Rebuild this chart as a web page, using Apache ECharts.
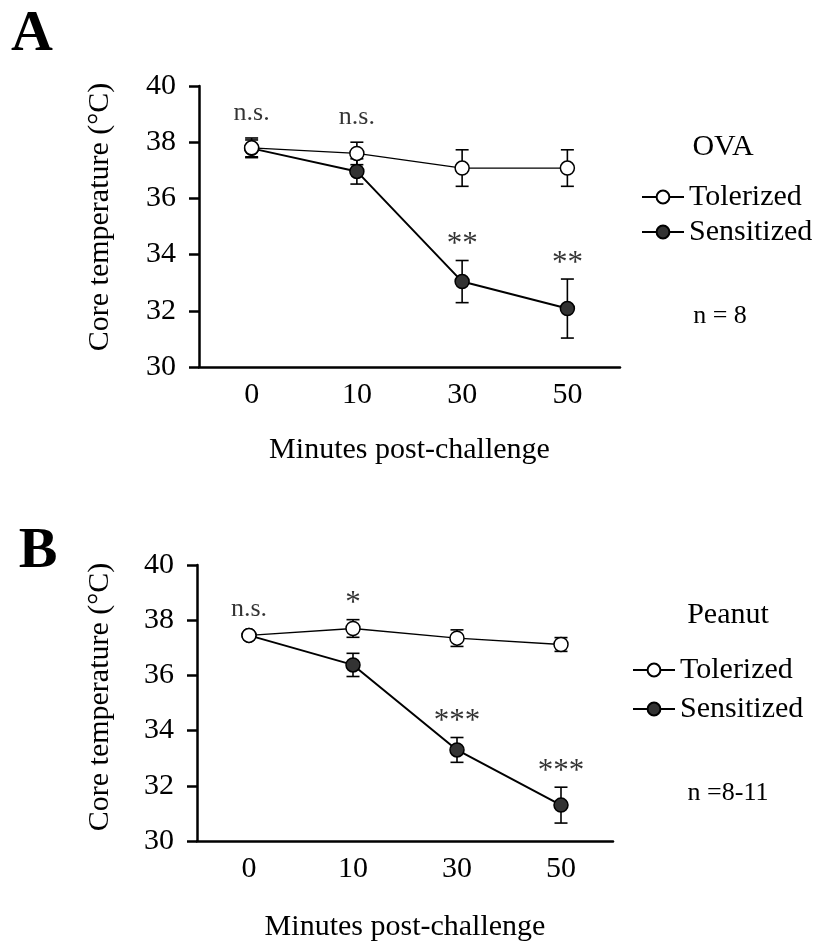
<!DOCTYPE html>
<html><head><meta charset="utf-8">
<script src="https://cdn.jsdelivr.net/npm/echarts@6/dist/echarts.min.js"></script>
<style>html,body{margin:0;padding:0;background:#fff}#c{width:819px;height:949px}</style>
</head><body><div id="c"></div>
<script>
// ---- data ----
const categories = ['0', '10', '30', '50'];
const yMin = 30, yMax = 40, yStep = 2;
const xTitle = 'Minutes post-challenge';
const yTitle = 'Core temperature (°C)';
const seriesNames = ['Tolerized', 'Sensitized'];

const ovaTolerized = [37.8, 37.6, 37.08, 37.08];
const ovaTolerizedErr = [0.35, 0.4, 0.65, 0.65];
const ovaSensitized = [37.78, 36.96, 33.04, 32.08];
const ovaSensitizedErr = [0.3, 0.45, 0.75, 1.05];
const ovaSig = ['n.s.', 'n.s.', '**', '**'];
const ovaSigAbove = ['Tolerized', 'Tolerized', 'Sensitized', 'Sensitized'];

const peanutTolerized = [37.45, 37.7, 37.35, 37.12];
const peanutTolerizedErr = [0.05, 0.32, 0.3, 0.25];
const peanutSensitized = [37.45, 36.38, 33.3, 31.3];
const peanutSensitizedErr = [0.05, 0.42, 0.45, 0.65];
const peanutSig = ['n.s.', '*', '***', '***'];
const peanutSigAbove = ['Tolerized', 'Tolerized', 'Sensitized', 'Sensitized'];

// ---- chart ----
const FONT = "'Liberation Serif', 'Times New Roman', serif";
const chart = echarts.init(document.getElementById('c'), null, {renderer: 'canvas'});

function xAxisCfg(gi, gap) {
  return {
    type: 'category', gridIndex: gi, data: categories, boundaryGap: true,
    axisLine: {lineStyle: {color: '#000', width: 2.5}},
    axisTick: {alignWithLabel: true, length: 8, lineStyle: {color: '#000', width: 2.5}},
    axisLabel: {color: '#000', fontSize: 30, fontFamily: FONT, margin: 13},
    name: xTitle, nameLocation: 'middle', nameGap: gap,
    nameTextStyle: {color: '#000', fontSize: 30, fontFamily: FONT}
  };
}
function yAxisCfg(gi) {
  return {
    type: 'value', gridIndex: gi, min: yMin, max: yMax, interval: yStep,
    splitLine: {show: false},
    axisLine: {show: true, lineStyle: {color: '#000', width: 2.5}},
    axisTick: {show: true, length: 10, lineStyle: {color: '#000', width: 2.5}},
    axisLabel: {color: '#000', fontSize: 30, fontFamily: FONT, margin: 23}
  };
}
function errSeries(gi, means, errs) {
  return {
    type: 'custom', xAxisIndex: gi, yAxisIndex: gi, silent: true, z: 1,
    data: means.map((m, i) => [i, m, errs[i]]),
    renderItem: function (params, api) {
      const x = api.value(0), m = api.value(1), e = api.value(2);
      const t = api.coord([x, m + e]);
      const b = api.coord([x, m - e]);
      const hw = 6.5;
      const st = {stroke: '#000', lineWidth: 1.6};
      return {type: 'group', children: [
        {type: 'line', shape: {x1: t[0], y1: t[1], x2: b[0], y2: b[1]}, style: st},
        {type: 'line', shape: {x1: t[0] - hw, y1: t[1], x2: t[0] + hw, y2: t[1]}, style: st},
        {type: 'line', shape: {x1: b[0] - hw, y1: b[1], x2: b[0] + hw, y2: b[1]}, style: st}
      ]};
    }
  };
}
function lineSeries(gi, name, data, fill, width, z) {
  return {
    type: 'line', name: name, xAxisIndex: gi, yAxisIndex: gi, data: data,
    symbol: 'circle', symbolSize: 14, showAllSymbol: true, z: z,
    lineStyle: {color: '#000', width: width},
    itemStyle: {color: fill, borderColor: '#000', borderWidth: 1.5},
    emphasis: {disabled: true}
  };
}
function sigSeries(gi, sig, above, tol, tolErr, sen, senErr) {
  return {
    type: 'scatter', xAxisIndex: gi, yAxisIndex: gi, silent: true, symbolSize: 0, z: 5,
    data: sig.map((s, i) => {
      const y = above[i] === 'Tolerized' ? tol[i] + tolErr[i] : sen[i] + senErr[i];
      const isNs = s === 'n.s.';
      return {
        value: [i, y],
        label: {formatter: s, distance: isNs ? 12 : 0, fontSize: isNs ? 26 : 31}
      };
    }),
    label: {show: true, position: 'top', color: '#000', fontSize: 26, fontFamily: FONT}
  };
}
function legendCfg(left, top, gap) {
  return {
    data: seriesNames, orient: 'vertical', left: left, top: top,
    itemWidth: 42, itemHeight: 16, itemGap: gap, selectedMode: false,
    textStyle: {color: '#000', fontSize: 30, fontFamily: FONT}
  };
}
function txt(x, y, text, size, bold, rot) {
  return {type: 'text', x: x, y: y, rotation: rot || 0, style: {
    text: text, fill: '#000', font: (bold ? 'bold ' : '') + size + 'px ' + FONT,
    textAlign: 'center', textVerticalAlign: 'middle'}};
}

chart.setOption({
  animation: false,
  backgroundColor: '#fff',
  grid: [
    {left: 199, width: 421, top: 86, height: 281},
    {left: 197, width: 416, top: 565, height: 276}
  ],
  xAxis: [xAxisCfg(0, 68), xAxisCfg(1, 71)],
  yAxis: [yAxisCfg(0), yAxisCfg(1)],
  legend: [legendCfg(636, 177, 5), legendCfg(627, 650, 9)],
  series: [
    errSeries(0, ovaSensitized, ovaSensitizedErr),
    errSeries(0, ovaTolerized, ovaTolerizedErr),
    lineSeries(0, 'Sensitized', ovaSensitized, '#333', 2, 2),
    lineSeries(0, 'Tolerized', ovaTolerized, '#fff', 1.3, 3),
    sigSeries(0, ovaSig, ovaSigAbove, ovaTolerized, ovaTolerizedErr, ovaSensitized, ovaSensitizedErr),
    errSeries(1, peanutSensitized, peanutSensitizedErr),
    errSeries(1, peanutTolerized, peanutTolerizedErr),
    lineSeries(1, 'Sensitized', peanutSensitized, '#333', 2, 2),
    lineSeries(1, 'Tolerized', peanutTolerized, '#fff', 1.3, 3),
    sigSeries(1, peanutSig, peanutSigAbove, peanutTolerized, peanutTolerizedErr, peanutSensitized, peanutSensitizedErr)
  ],
  graphic: [
    txt(32, 35, 'A', 58, true),
    txt(38, 552, 'B', 58, true),
    txt(100, 217, yTitle, 30, false, Math.PI / 2),
    txt(100, 697, yTitle, 30, false, Math.PI / 2),
    txt(723, 147, 'OVA', 30),
    txt(720, 316, 'n = 8', 26),
    txt(728, 615, 'Peanut', 30),
    txt(728, 793, 'n =8-11', 26)
  ]
});
</script></body></html>
